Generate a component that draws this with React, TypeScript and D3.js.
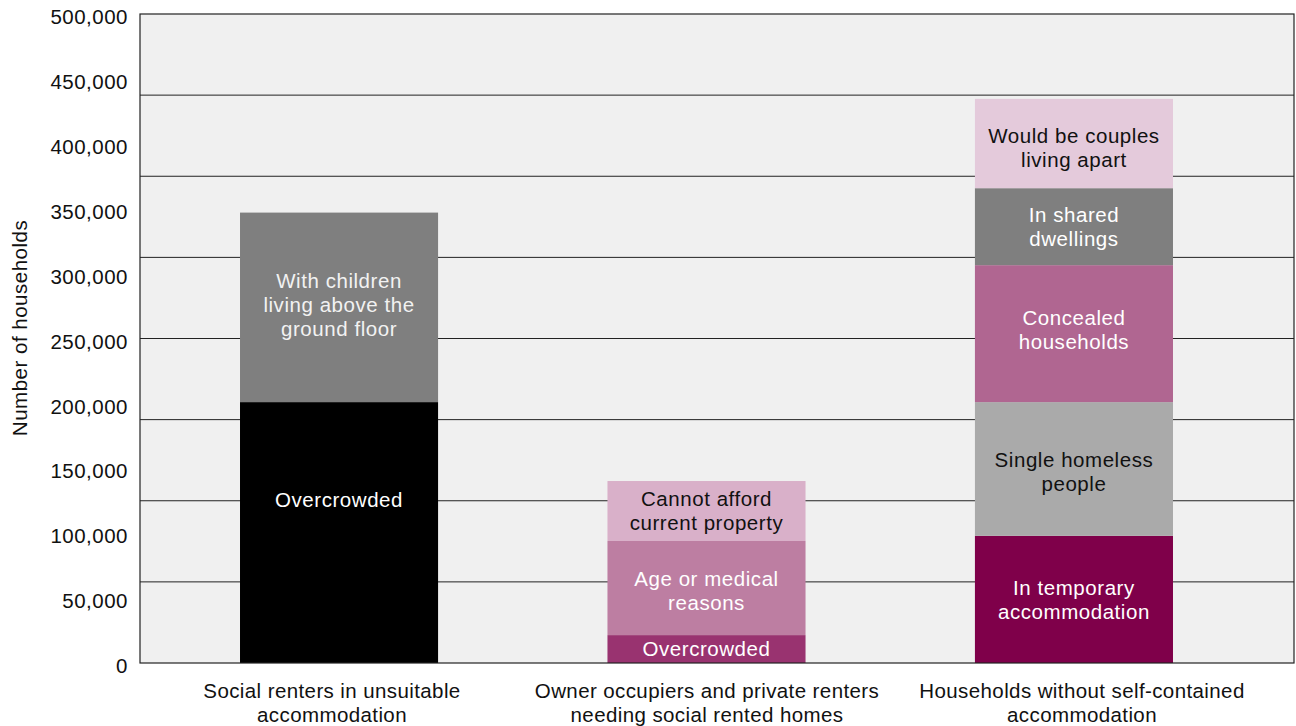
import React from "react";
import * as d3 from "d3";

const categories = [
  "Social renters in unsuitable\naccommodation",
  "Owner occupiers and private renters\nneeding social rented homes",
  "Households without self-contained\naccommodation",
];

const segLabels = [
  ["Overcrowded", "With children\nliving above the\nground floor"],
  ["Overcrowded", "Age or medical\nreasons", "Cannot afford\ncurrent property"],
  [
    "In temporary\naccommodation",
    "Single homeless\npeople",
    "Concealed\nhouseholds",
    "In shared\ndwellings",
    "Would be couples\nliving apart",
  ],
];

const segValues = [
  [201000, 146000],
  [21500, 72500, 46200],
  [98000, 103000, 105500, 59300, 68800],
];

const segColors = [
  ["#000000", "#7f7f7f"],
  ["#993370", "#bd7ea2", "#d9b0c9"],
  ["#7f004a", "#aaaaaa", "#b06691", "#7f7f7f", "#e4cadb"],
];

const segTextColors = [
  ["#ffffff", "#f2f2f2"],
  ["#ffffff", "#ffffff", "#111111"],
  ["#ffffff", "#111111", "#ffffff", "#ffffff", "#111111"],
];

const segLabelShift = [
  [-33, -3],
  [0, 3, 0],
  [0, 3, -4, 0, 4],
];

const yTicks = [0, 50000, 100000, 150000, 200000, 250000, 300000, 350000, 400000, 450000, 500000];
const gridValues = [62500, 125000, 187500, 250000, 312500, 375000, 437500];

const yTitle = "Number of households";

const W = 1296;
const H = 726;
const left = 140;
const right = 1294;
const top = 14;
const bottom = 663;
const FONT = "'Liberation Sans', Arial, Helvetica, sans-serif";

export default function App() {
  const y = d3.scaleLinear().domain([0, 500000]).range([bottom, top]);
  const x = d3
    .scaleBand<number>()
    .domain([0, 1, 2])
    .range([140.8, 1272.2])
    .paddingInner(0.461)
    .paddingOuter(0.27);
  const xl = d3.scaleBand<number>().domain([0, 1, 2]).range([144.5, 1269.5]);
  const fmt = d3.format(",");
  const lineH = 24;

  return (
    <svg
      width={W}
      height={H}
      style={{ position: "absolute", left: 0, top: 0, display: "block", background: "#fff" }}
      fontFamily={FONT}
    >
      <rect x={left} y={top} width={right - left} height={bottom - top} fill="#f0f0f0" />
      {gridValues.map((g) => (
        <line key={g} x1={left} x2={right} y1={y(g)} y2={y(g)} stroke="#222" strokeWidth={1} />
      ))}
      {segValues.map((vals, i) => {
        let acc = 0;
        return (
          <g key={i}>
            {vals.map((v, j) => {
              const y0 = acc;
              const y1 = acc + v;
              acc = y1;
              const yt = y(y1);
              const yb = y(y0);
              const lines = segLabels[i][j].split("\n");
              const cy = (yt + yb) / 2 + segLabelShift[i][j];
              const cx = (x(i) as number) + x.bandwidth() / 2;
              return (
                <g key={j}>
                  <rect x={x(i)} y={yt} width={x.bandwidth()} height={yb - yt} fill={segColors[i][j]} />
                  <text
                    x={cx}
                    textAnchor="middle"
                    fontSize={20.5}
                    letterSpacing={0.55}
                    fill={segTextColors[i][j]}
                  >
                    {lines.map((ln, k) => (
                      <tspan
                        key={k}
                        x={cx}
                        y={cy + (k - (lines.length - 1) / 2) * lineH}
                        dy="0.35em"
                      >
                        {ln}
                      </tspan>
                    ))}
                  </text>
                </g>
              );
            })}
          </g>
        );
      })}
      <rect
        x={left}
        y={top}
        width={right - left}
        height={bottom - top}
        fill="none"
        stroke="#222"
        strokeWidth={1.2}
      />
      {yTicks.map((t) => (
        <text
          key={t}
          x={128}
          y={y(t) + 3}
          dy="0.35em"
          textAnchor="end"
          fontSize={20.5}
          letterSpacing={0.5}
          fill="#111"
        >
          {fmt(t)}
        </text>
      ))}
      <text
        transform={`translate(20, 328) rotate(-90)`}
        textAnchor="middle"
        dy="0.35em"
        fontSize={20.5}
        letterSpacing={0.5}
        fill="#111"
      >
        {yTitle}
      </text>
      {categories.map((c, i) => {
        const cx = (xl(i) as number) + xl.bandwidth() / 2;
        return (
          <text key={i} textAnchor="middle" fontSize={20.5} letterSpacing={0.4} fill="#111">
            {c.split("\n").map((ln, k) => (
              <tspan key={k} x={cx} y={691 + k * 24} dy="0.35em">
                {ln}
              </tspan>
            ))}
          </text>
        );
      })}
    </svg>
  );
}
